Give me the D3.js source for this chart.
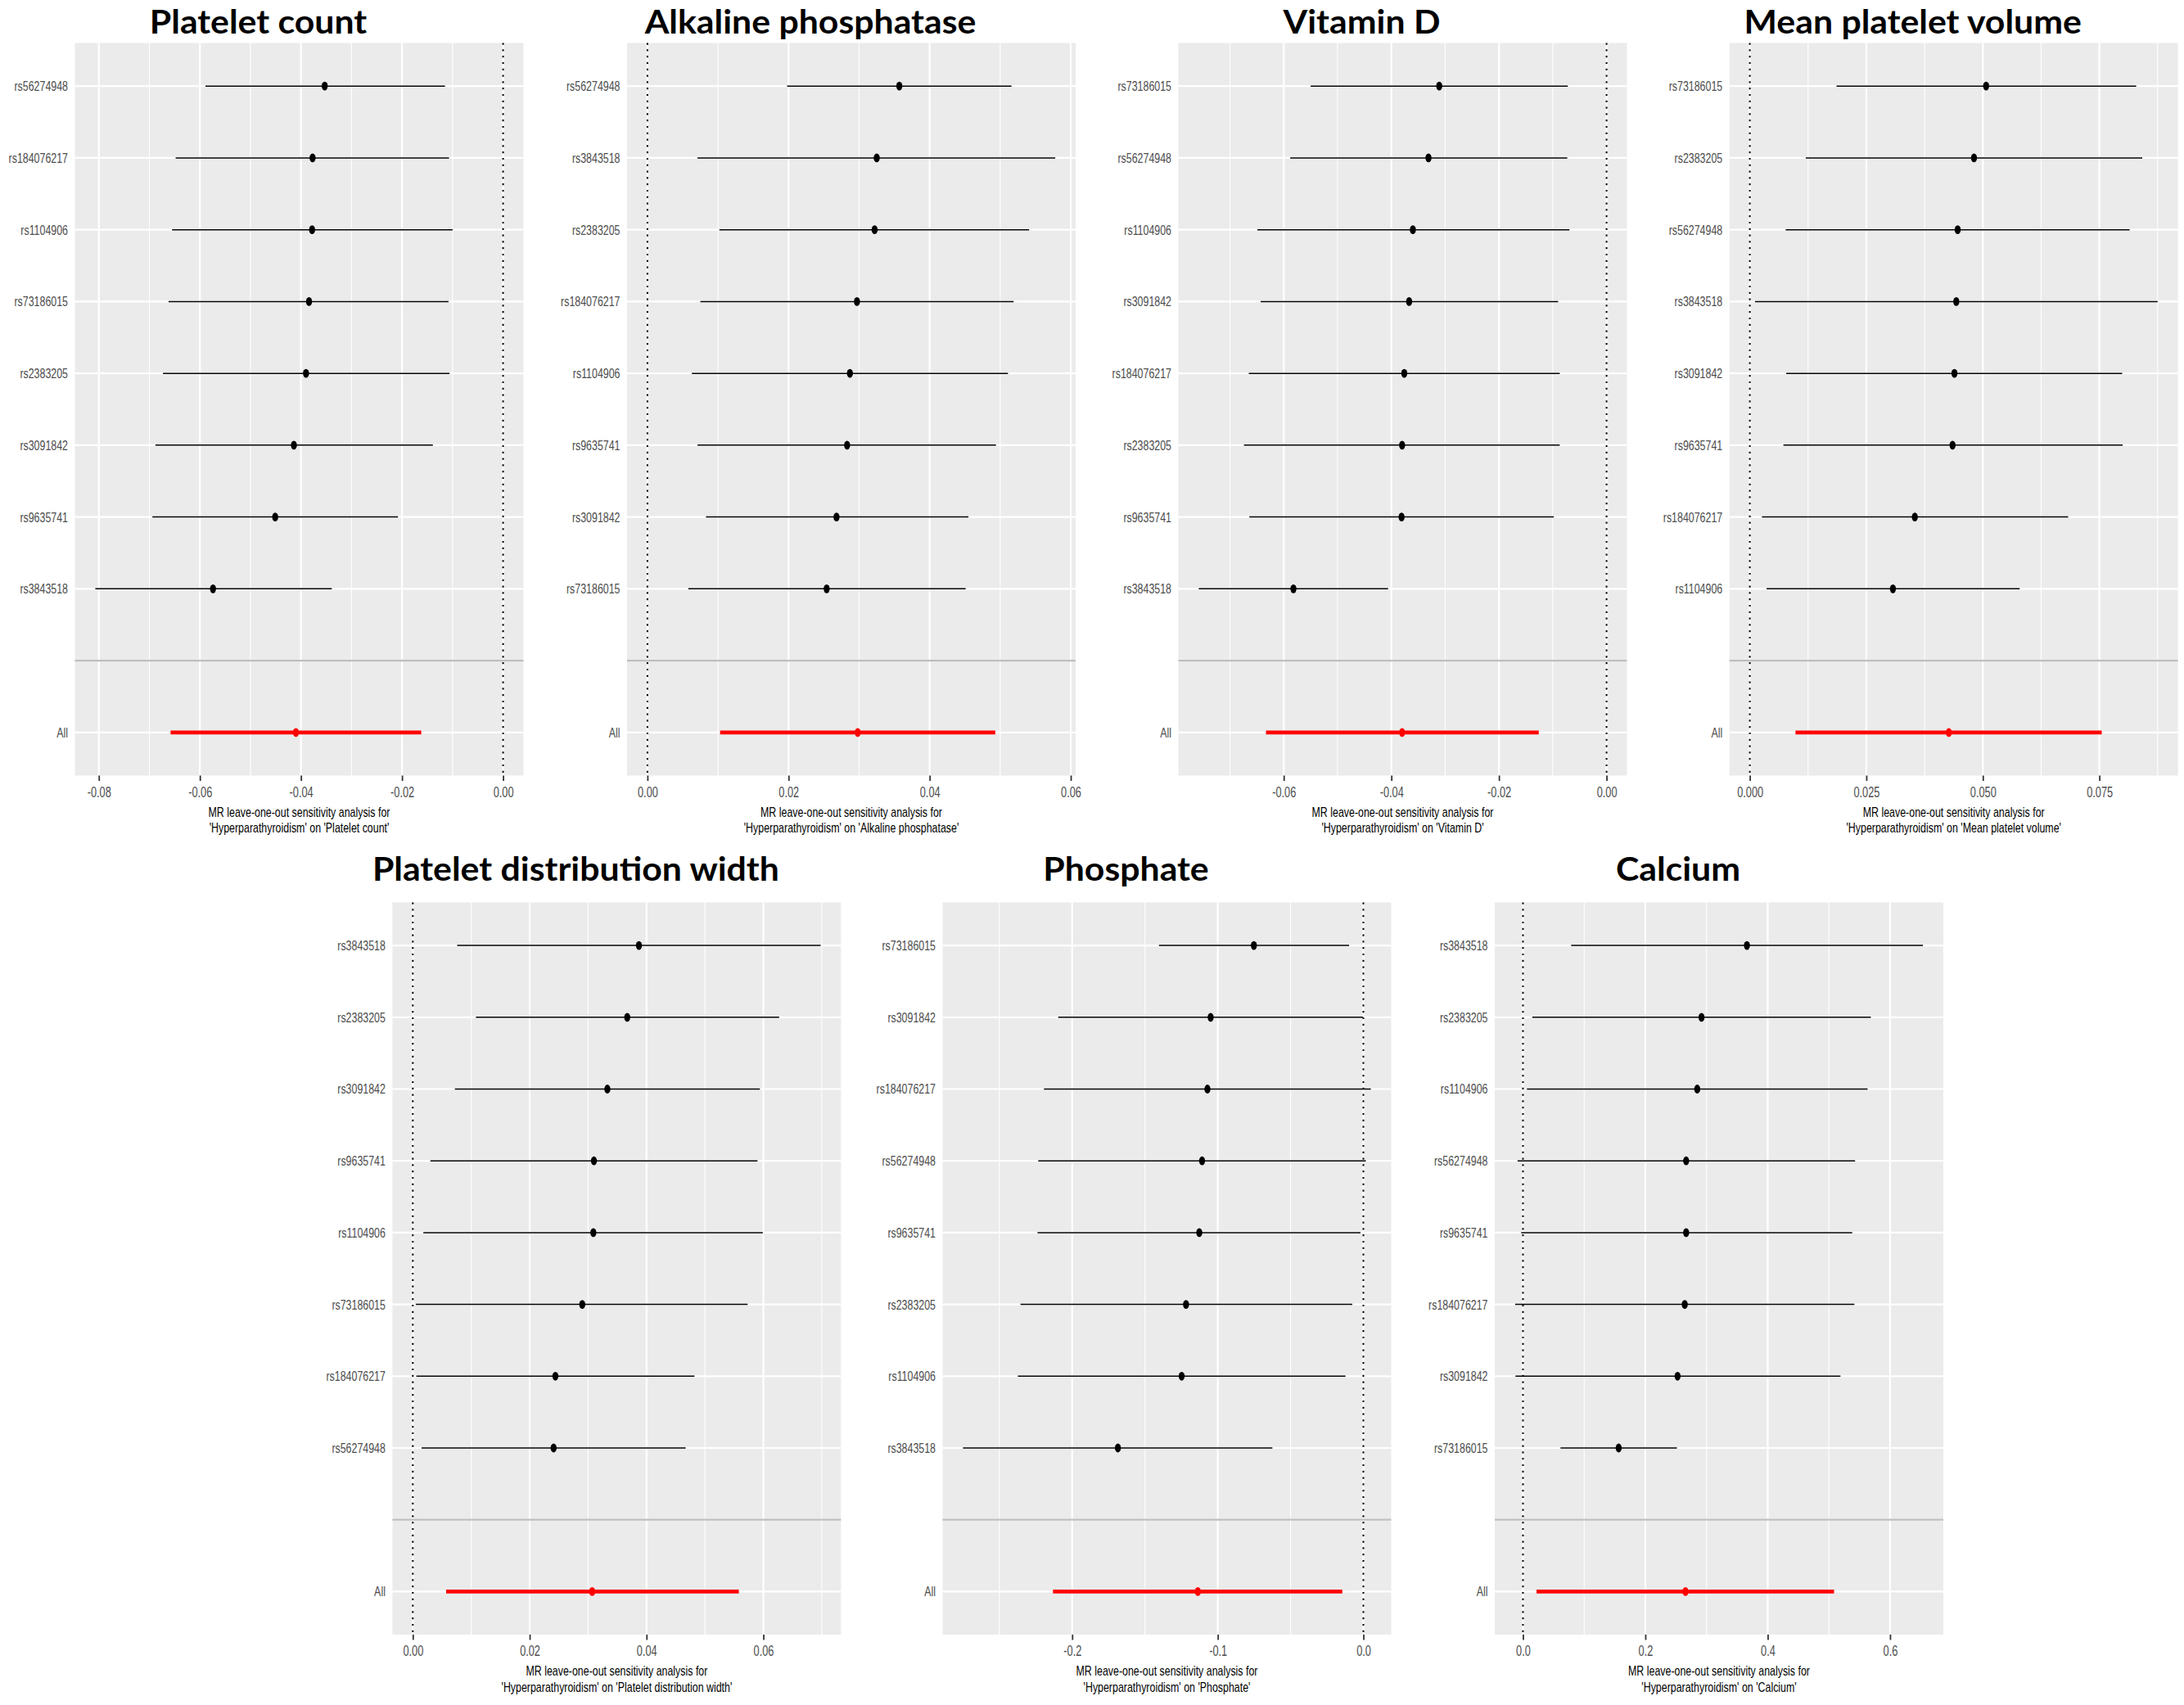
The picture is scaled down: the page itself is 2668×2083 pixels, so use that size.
<!DOCTYPE html>
<html><head><meta charset="utf-8">
<script src="https://cdn.jsdelivr.net/npm/d3@7"></script>
<style>html,body{margin:0;padding:0;background:#fff;}</style>
</head><body>
<svg id="chart" width="2668" height="2083"></svg>
<script>
// ---------------- DATA ----------------
const exposure = "Hyperparathyroidism";
const titles = ["Platelet count", "Alkaline phosphatase", "Vitamin D", "Mean platelet volume",
                "Platelet distribution width", "Phosphate", "Calcium"];

// Platelet count
const snpsPC = ["rs56274948","rs184076217","rs1104906","rs73186015","rs2383205","rs3091842","rs9635741","rs3843518"];
const bPC  = [-0.0353,-0.0377,-0.0378,-0.0384,-0.0390,-0.0414,-0.0451,-0.0574];
const loPC = [-0.0589,-0.0648,-0.0655,-0.0662,-0.0673,-0.0688,-0.0694,-0.0807];
const hiPC = [-0.0115,-0.0107,-0.0100,-0.0108,-0.0106,-0.0139,-0.0208,-0.0339];
const allPC = [-0.0410,-0.0658,-0.0162];
const ticksPC = ["-0.08","-0.06","-0.04","-0.02","0.00"];

// Alkaline phosphatase
const snpsALP = ["rs56274948","rs3843518","rs2383205","rs184076217","rs1104906","rs9635741","rs3091842","rs73186015"];
const bALP  = [0.0357,0.0325,0.0322,0.0297,0.0287,0.0283,0.0268,0.0254];
const loALP = [0.0198,0.0071,0.0102,0.0075,0.0063,0.0071,0.0083,0.0058];
const hiALP = [0.0516,0.0578,0.0541,0.0519,0.0511,0.0494,0.0455,0.0451];
const allALP = [0.0298,0.0103,0.0493];
const ticksALP = ["0.00","0.02","0.04","0.06"];

// Vitamin D
const snpsVD = ["rs73186015","rs56274948","rs1104906","rs3091842","rs184076217","rs2383205","rs9635741","rs3843518"];
const bVD  = [-0.0311,-0.0331,-0.0360,-0.0367,-0.0376,-0.0380,-0.0381,-0.0582];
const loVD = [-0.0550,-0.0588,-0.0649,-0.0643,-0.0665,-0.0674,-0.0664,-0.0758];
const hiVD = [-0.0072,-0.0073,-0.0069,-0.0090,-0.0087,-0.0087,-0.0098,-0.0406];
const allVD = [-0.0380,-0.0633,-0.0126];
const ticksVD = ["-0.06","-0.04","-0.02","0.00"];

// Mean platelet volume
const snpsMPV = ["rs73186015","rs2383205","rs56274948","rs3843518","rs3091842","rs9635741","rs184076217","rs1104906"];
const bMPV  = [0.0507,0.0481,0.0446,0.0443,0.0439,0.0435,0.0354,0.0307];
const loMPV = [0.0186,0.0120,0.0077,0.0011,0.0078,0.0072,0.0026,0.0036];
const hiMPV = [0.0829,0.0842,0.0815,0.0875,0.0799,0.0800,0.0683,0.0579];
const allMPV = [0.0427,0.0098,0.0755];
const ticksMPV = ["0.000","0.025","0.050","0.075"];

// Platelet distribution width
const snpsPDW = ["rs3843518","rs2383205","rs3091842","rs9635741","rs1104906","rs73186015","rs184076217","rs56274948"];
const bPDW  = [0.0387,0.0367,0.0333,0.0310,0.0309,0.0290,0.0244,0.0241];
const loPDW = [0.0076,0.0108,0.0072,0.0030,0.0018,0.0005,0.0006,0.0015];
const hiPDW = [0.0698,0.0627,0.0594,0.0590,0.0599,0.0573,0.0482,0.0467];
const allPDW = [0.0307,0.0057,0.0558];
const ticksPDW = ["0.00","0.02","0.04","0.06"];

// Phosphate
const snpsPH = ["rs73186015","rs3091842","rs184076217","rs56274948","rs9635741","rs2383205","rs1104906","rs3843518"];
const bPH  = [-0.0752,-0.1049,-0.1071,-0.1108,-0.1127,-0.1218,-0.1248,-0.1686];
const loPH = [-0.1404,-0.2096,-0.2194,-0.2233,-0.2238,-0.2355,-0.2373,-0.2750];
const hiPH = [-0.0098,-0.0003,0.0051,0.0017,-0.0020,-0.0076,-0.0123,-0.0625];
const allPH = [-0.1137,-0.2132,-0.0145];
const ticksPH = ["-0.2","-0.1","0.0"];

// Calcium
const snpsCA = ["rs3843518","rs2383205","rs1104906","rs56274948","rs9635741","rs184076217","rs3091842","rs73186015"];
const bCA  = [0.3660,0.2918,0.2848,0.2667,0.2667,0.2644,0.2527,0.1564];
const loCA = [0.0788,0.0152,0.0064,-0.0088,-0.0029,-0.0128,-0.0123,0.0613];
const hiCA = [0.6537,0.5685,0.5632,0.5428,0.5381,0.5416,0.5189,0.2516];
const allCA = [0.2656,0.0222,0.5084];
const ticksCA = ["0.0","0.2","0.4","0.6"];

// ---------------- LAYOUT ----------------
const panels = [
  {title:titles[0], snps:snpsPC,  b:bPC,  lo:loPC,  hi:hiPC,  all:allPC,  ticks:ticksPC,  left:91.5,   row:0},
  {title:titles[1], snps:snpsALP, b:bALP, lo:loALP, hi:hiALP, all:allALP, ticks:ticksALP, left:766,    row:0},
  {title:titles[2], snps:snpsVD,  b:bVD,  lo:loVD,  hi:hiVD,  all:allVD,  ticks:ticksVD,  left:1439.5, row:0},
  {title:titles[3], snps:snpsMPV, b:bMPV, lo:loMPV, hi:hiMPV, all:allMPV, ticks:ticksMPV, left:2112.7, row:0},
  {title:titles[4], snps:snpsPDW, b:bPDW, lo:loPDW, hi:hiPDW, all:allPDW, ticks:ticksPDW, left:479.4,  row:1},
  {title:titles[5], snps:snpsPH,  b:bPH,  lo:loPH,  hi:hiPH,  all:allPH,  ticks:ticksPH,  left:1151.5, row:1},
  {title:titles[6], snps:snpsCA,  b:bCA,  lo:loCA,  hi:hiCA,  all:allCA,  ticks:ticksCA,  left:1826,   row:1},
];
const rowGeom = [{top:52.5, bottom:947.5, titleY:41}, {top:1102.5, bottom:1997, titleY:1076}];
const PW = 548;
const SX = 0.73;   // horizontal squeeze of the small text
const FONT = "'Liberation Sans', Arial, sans-serif";

const svg = d3.select("#chart");
svg.append("rect").attr("width",2668).attr("height",2083).attr("fill","#fff");

panels.forEach(p => {
  const g = rowGeom[p.row];
  const lefts = p.lo.concat([p.all[1], 0]);
  const rights = p.hi.concat([p.all[2], 0]);
  const dmin = d3.min(lefts), dmax = d3.max(rights);
  const pad = (dmax - dmin) * 0.05;
  const x = d3.scaleLinear().domain([dmin - pad, dmax + pad]).range([p.left, p.left + PW]);
  const levels = p.snps.concat(["", "All"]);
  const y = d3.scalePoint().domain(levels).range([g.top, g.bottom]).padding(0.6);

  const G = svg.append("g");
  G.append("rect").attr("x", p.left).attr("y", g.top).attr("width", PW).attr("height", g.bottom - g.top)
    .attr("fill", "#EBEBEB");

  const majors = p.ticks.map(Number);
  const step = majors[1] - majors[0];
  const dom = x.domain();
  const minors = [];
  for (let v = majors[0] - step / 2; v <= dom[1] + 1e-9; v += step) {
    if (v >= dom[0] && v <= dom[1]) minors.push(v);
  }
  G.selectAll(".minor").data(minors).join("line")
    .attr("x1", d => x(d)).attr("x2", d => x(d)).attr("y1", g.top).attr("y2", g.bottom)
    .attr("stroke", "#fff").attr("stroke-width", 1.1);
  G.selectAll(".majv").data(majors).join("line")
    .attr("x1", d => x(d)).attr("x2", d => x(d)).attr("y1", g.top).attr("y2", g.bottom)
    .attr("stroke", "#fff").attr("stroke-width", 2.2);
  G.selectAll(".majh").data(levels).join("line")
    .attr("x1", p.left).attr("x2", p.left + PW).attr("y1", d => y(d)).attr("y2", d => y(d))
    .attr("stroke", "#fff").attr("stroke-width", 2.2);

  G.append("line").attr("x1", x(0)).attr("x2", x(0)).attr("y1", g.top).attr("y2", g.bottom)
    .attr("stroke", "#000").attr("stroke-width", 2).attr("stroke-dasharray", "2.2 5.6");

  const rows = p.snps.map((s, i) => ({snp: s, b: p.b[i], lo: p.lo[i], hi: p.hi[i], tot: false}));
  rows.push({snp: "All", b: p.all[0], lo: p.all[1], hi: p.all[2], tot: true});
  G.selectAll(".eb").data(rows).join("line")
    .attr("x1", d => x(d.lo)).attr("x2", d => x(d.hi)).attr("y1", d => y(d.snp)).attr("y2", d => y(d.snp))
    .attr("stroke", d => d.tot ? "#FF0000" : "#000").attr("stroke-width", d => d.tot ? 4.8 : 1.5);
  G.selectAll(".pt").data(rows).join("ellipse")
    .attr("cx", d => x(d.b)).attr("cy", d => y(d.snp)).attr("rx", 3.7).attr("ry", 5.4)
    .attr("fill", d => d.tot ? "#FF0000" : "#000");

  G.append("line").attr("x1", p.left).attr("x2", p.left + PW).attr("y1", y("")).attr("y2", y(""))
    .attr("stroke", "#BEBEBE").attr("stroke-width", 2.2);

  const xa = G.append("g").attr("transform", `translate(0,${g.bottom})`)
    .call(d3.axisBottom(x).tickValues(majors).tickFormat((d, i) => p.ticks[i]).tickSize(6.5).tickPadding(7.5));
  xa.select(".domain").remove();
  xa.selectAll(".tick line").attr("stroke", "#333333").attr("stroke-width", 1.8);
  xa.selectAll(".tick text").attr("fill", "#4D4D4D").attr("font-family", FONT).attr("font-size", 17.5)
    .attr("transform", `scale(${SX},1)`);

  const ya = G.append("g").attr("transform", `translate(${p.left},0)`)
    .call(d3.axisLeft(y).tickValues(p.snps.concat(["All"])).tickSize(0).tickPadding(8.5));
  ya.select(".domain").remove();
  ya.selectAll(".tick line").remove();
  ya.selectAll(".tick text").attr("fill", "#4D4D4D").attr("font-family", FONT).attr("font-size", 17)
    .attr("x", -8.5 / SX).attr("transform", `scale(${SX},1)`);

  const cx = p.left + PW / 2;
  const lines = ["MR leave-one-out sensitivity analysis for", `'${exposure}' on '${p.title}'`];
  lines.forEach((t, i) => {
    G.append("text").attr("transform", `translate(${cx},${g.bottom + 50 + i * 19.5}) scale(${SX},1)`)
      .attr("text-anchor", "middle").attr("font-family", FONT).attr("font-size", 17)
      .attr("fill", "#000").text(t);
  });

  G.append("text").attr("transform", `translate(${cx - 50},${g.titleY}) scale(1.07,1)`)
    .attr("text-anchor", "middle")
    .attr("font-family", "Lato, 'Open Sans', sans-serif").attr("font-weight", 700)
    .attr("font-size", 40).attr("fill", "#000").text(p.title);
});
</script>
</body></html>
